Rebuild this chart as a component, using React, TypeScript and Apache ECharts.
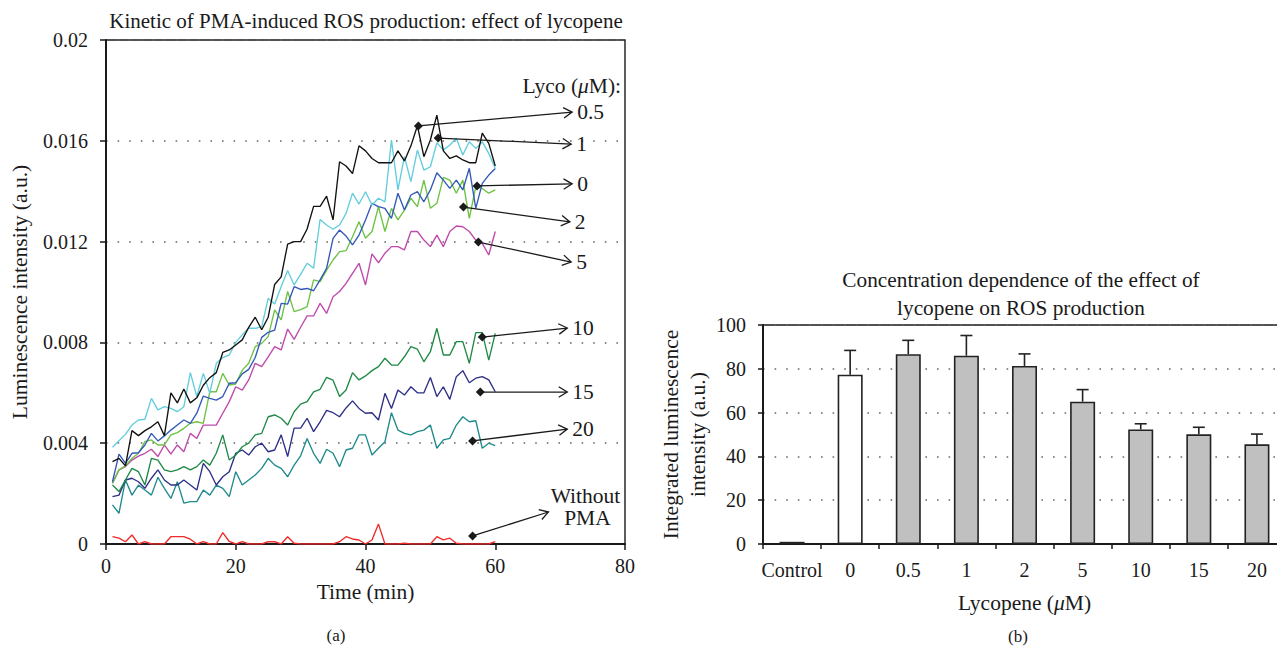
import React, { useEffect, useRef } from "react";
import * as echarts from "echarts";

// ---------- Panel (a): kinetics ----------
const times = [1, 2, 3, 4, 5, 6, 7, 8, 9, 10, 11, 12, 13, 14, 15, 16, 17, 18, 19, 20,
  21, 22, 23, 24, 25, 26, 27, 28, 29, 30, 31, 32, 33, 34, 35, 36, 37, 38, 39, 40,
  41, 42, 43, 44, 45, 46, 47, 48, 49, 50, 51, 52, 53, 54, 55, 56, 57, 58, 59, 60];

const lyco0_5 = [0.00327, 0.0034, 0.0031, 0.0045, 0.0043, 0.0045, 0.00465, 0.00485, 0.0043, 0.006,
  0.0056, 0.00615, 0.0056, 0.0058, 0.0063, 0.0066, 0.0068, 0.0076, 0.0077, 0.0079,
  0.0081, 0.0086, 0.009, 0.0085, 0.009, 0.0103, 0.0106, 0.0119, 0.012, 0.012,
  0.0125, 0.0134, 0.0134, 0.0138, 0.01286, 0.01517, 0.015, 0.0147, 0.0158, 0.0156,
  0.0153, 0.01513, 0.01513, 0.01513, 0.0156, 0.0152, 0.0158, 0.0166, 0.01537, 0.01603,
  0.01702, 0.0156, 0.0153, 0.0154, 0.01524, 0.01513, 0.01513, 0.0163, 0.0159, 0.015];

const lyco1 = [0.00384, 0.0041, 0.00435, 0.00472, 0.00492, 0.00495, 0.00578, 0.00532, 0.00545, 0.00538,
  0.00525, 0.00545, 0.0068, 0.00585, 0.00677, 0.00598, 0.00717, 0.0074, 0.0075, 0.008,
  0.0083, 0.00856, 0.00856, 0.00862, 0.00975, 0.00952, 0.01021, 0.01085, 0.01028, 0.0107,
  0.01114, 0.01094, 0.01288, 0.01266, 0.01249, 0.01266, 0.01312, 0.01392, 0.01349, 0.01398,
  0.01345, 0.01372, 0.01358, 0.01603, 0.01405, 0.01537, 0.01438, 0.01563, 0.01484, 0.01497,
  0.01592, 0.01563, 0.01583, 0.0161, 0.01544, 0.01596, 0.0157, 0.01596, 0.0155, 0.0149];

const lyco0 = [0.00247, 0.00357, 0.0032, 0.0036, 0.00362, 0.00393, 0.00439, 0.00409, 0.00429, 0.00452,
  0.00472, 0.00492, 0.00479, 0.00519, 0.00587, 0.00578, 0.00571, 0.00585, 0.00638, 0.0064,
  0.00675, 0.00693, 0.0074, 0.0082, 0.0084, 0.00849, 0.00955, 0.00952, 0.01021, 0.0101,
  0.01014, 0.01005, 0.01048, 0.01094, 0.01213, 0.01246, 0.01222, 0.01187, 0.01226, 0.01286,
  0.01352, 0.01339, 0.01332, 0.01292, 0.01392, 0.01325, 0.01385, 0.01398, 0.01358, 0.01405,
  0.01473, 0.01444, 0.01411, 0.01444, 0.01405, 0.01491, 0.01332, 0.01431, 0.01464, 0.0149];

const lyco2 = [0.00241, 0.00294, 0.0031, 0.0034, 0.0036, 0.00406, 0.00413, 0.00393, 0.00393, 0.00433,
  0.00442, 0.00459, 0.00479, 0.00485, 0.00479, 0.00604, 0.00604, 0.00677, 0.00631, 0.00635,
  0.0069, 0.00717, 0.00783, 0.00796, 0.00823, 0.00929, 0.00889, 0.01002, 0.00922, 0.0093,
  0.00942, 0.01048, 0.01041, 0.01087, 0.01127, 0.0116, 0.01164, 0.01219, 0.01279, 0.01213,
  0.0124, 0.01339, 0.0124, 0.01332, 0.01286, 0.01325, 0.01372, 0.01339, 0.01444, 0.01332,
  0.01352, 0.01455, 0.01444, 0.01392, 0.01444, 0.01292, 0.01418, 0.01411, 0.01392, 0.01405];

const lyco5 = [0.00241, 0.00294, 0.00307, 0.00333, 0.00349, 0.0036, 0.00376, 0.00347, 0.00393, 0.00357,
  0.00393, 0.00366, 0.00439, 0.00419, 0.00472, 0.00472, 0.00472, 0.00519, 0.00565, 0.00624,
  0.00611, 0.00651, 0.00717, 0.00704, 0.00743, 0.00783, 0.0077, 0.00853, 0.00812, 0.0086,
  0.00905, 0.00905, 0.00955, 0.00915, 0.00981, 0.01002, 0.01034, 0.01074, 0.01114, 0.01028,
  0.01151, 0.01116, 0.01154, 0.0118, 0.0118, 0.01167, 0.0124, 0.0124, 0.01206, 0.0118,
  0.01226, 0.0118, 0.0124, 0.01262, 0.01259, 0.0124, 0.01206, 0.01193, 0.01147, 0.0124];

const lyco10 = [0.00234, 0.00208, 0.00254, 0.003, 0.00287, 0.00234, 0.0034, 0.00333, 0.00294, 0.00287,
  0.00294, 0.00307, 0.00294, 0.00307, 0.00333, 0.00313, 0.0036, 0.00433, 0.00333, 0.00353,
  0.00386, 0.004, 0.00433, 0.00439, 0.00505, 0.00512, 0.00499, 0.00472, 0.00525, 0.00555,
  0.00565, 0.00604, 0.00614, 0.00661, 0.0065, 0.00585, 0.00611, 0.0068, 0.00651, 0.00667,
  0.00688, 0.00704, 0.00737, 0.0071, 0.0071, 0.00743, 0.00783, 0.00773, 0.00723, 0.00763,
  0.00856, 0.0075, 0.0075, 0.00803, 0.00803, 0.00717, 0.00839, 0.00839, 0.0073, 0.00836];

const lyco15 = [0.00188, 0.00194, 0.00254, 0.00261, 0.00247, 0.00221, 0.00261, 0.00294, 0.00254, 0.00234,
  0.00234, 0.00254, 0.00234, 0.00214, 0.0032, 0.00287, 0.00234, 0.00267, 0.00287, 0.0036,
  0.00373, 0.00353, 0.00386, 0.004, 0.00366, 0.00373, 0.00433, 0.00347, 0.0046, 0.0046,
  0.00499, 0.00446, 0.00485, 0.0053, 0.00521, 0.00505, 0.0054, 0.00568, 0.00538, 0.00519,
  0.00521, 0.00492, 0.00598, 0.00538, 0.00611, 0.00591, 0.00624, 0.006, 0.006, 0.00661,
  0.00585, 0.00624, 0.00574, 0.00664, 0.00688, 0.0064, 0.00658, 0.00664, 0.00651, 0.00604];

const lyco20 = [0.00155, 0.00122, 0.00254, 0.00194, 0.00234, 0.00214, 0.00194, 0.00265, 0.00221, 0.00181,
  0.00247, 0.00162, 0.00168, 0.00168, 0.00214, 0.00194, 0.00234, 0.00221, 0.00188, 0.00287,
  0.00234, 0.00254, 0.00274, 0.003, 0.0034, 0.00313, 0.003, 0.00267, 0.00313, 0.0035,
  0.00419, 0.0036, 0.0032, 0.00376, 0.0036, 0.00307, 0.00373, 0.0038, 0.00433, 0.00433,
  0.00353, 0.0038, 0.00406, 0.00521, 0.00452, 0.00439, 0.00433, 0.00446, 0.00452, 0.00472,
  0.0038, 0.00413, 0.00419, 0.00472, 0.00505, 0.00485, 0.00489, 0.0038, 0.004, 0.0039];

const withoutPMA = [0.00029, 0.00023, 0.00009, 0.00036, 0, 0.00009, 0, 0, 0, 0.00029,
  0.00029, 0.00029, 0.00019, 0, 0.00009, 0, 0, 0.00045, 0.0001, 0,
  0.00009, 0, 0, 0, 0.00009, 0.00009, 0, 0.00029, 0.00003, 0,
  0, 0, 0, 0, 0, 0.00009, 0.00029, 0.0002, 0.00016, 0,
  0.00016, 0.00079, 0, 0, 0, 0.00003, 0, 0, 0, 0,
  0.00029, 0.00016, 0.00023, 0.00003, 0, 0, 0, 0, 0, 0.00009];

const kineticSeries = [
  { name: "Without PMA", data: withoutPMA, color: "#ee2a2a" },
  { name: "20", data: lyco20, color: "#1f8a8c" },
  { name: "15", data: lyco15, color: "#2e2f86" },
  { name: "10", data: lyco10, color: "#1f8a45" },
  { name: "5", data: lyco5, color: "#bf49ab" },
  { name: "2", data: lyco2, color: "#6cc243" },
  { name: "0", data: lyco0, color: "#3358b8" },
  { name: "1", data: lyco1, color: "#62cddd" },
  { name: "0.5", data: lyco0_5, color: "#111111" },
];

// annotation arrows, in data coordinates [time, intensity]
const annotations = [
  { label: "0.5", from: [48.15, 0.01659], to: [71.85, 0.01714] },
  { label: "1", from: [51.2, 0.01611], to: [71.7, 0.01587] },
  { label: "0", from: [57.2, 0.01421], to: [71.85, 0.01429] },
  { label: "2", from: [55.1, 0.01337], to: [71.5, 0.01278] },
  { label: "5", from: [57.4, 0.01198], to: [71.7, 0.01119] },
  { label: "10", from: [58.0, 0.00821], to: [71.1, 0.00857] },
  { label: "15", from: [57.7, 0.00603], to: [71.1, 0.00603] },
  { label: "20", from: [56.5, 0.00409], to: [71.1, 0.00456] },
  { label: "Without\nPMA", from: [56.5, 0.00032], to: [68.2, 0.00127] },
];
const lycoHeaderAt = [71.8, 0.01817];

// ---------- Panel (b): bars ----------
const barCategories = ["Control", "0", "0.5", "1", "2", "5", "10", "15", "20"];
const barValues = [1.0, 77.3, 86.7, 86.0, 81.3, 65.0, 52.3, 50.1, 45.5];
const barErrTop = [1.0, 88.4, 93.0, 95.2, 86.8, 70.5, 54.9, 53.3, 50.2];

const SERIF = '"Liberation Serif", "Times New Roman", "DejaVu Serif", serif';
const FS = 20;
const NFS = 21.5;
const INK = "#1a1a1a";

export default function App() {
  const ref = useRef<HTMLDivElement>(null);

  useEffect(() => {
    const chart = echarts.init(ref.current!, null, { renderer: "svg" });

    const dotted = { color: "#666", width: 1.6, type: [1.6, 10] as any };
    const axisTxt = { fontFamily: SERIF, fontSize: FS, color: INK };
    const nameTxt = { fontFamily: SERIF, fontSize: NFS, color: INK };

    const option: any = {
      animation: false,
      textStyle: { fontFamily: SERIF },
      grid: [
        { left: 106, top: 40, width: 519, height: 504, show: true, borderColor: INK, borderWidth: 1.4, backgroundColor: "transparent" },
        { left: 763, top: 325, width: 523, height: 219, show: true, borderColor: INK, borderWidth: 1.4, backgroundColor: "transparent" },
      ],
      xAxis: [
        {
          type: "value", gridIndex: 0, min: 0, max: 80, interval: 20,
          axisLine: { show: true, onZero: false, lineStyle: { color: INK, width: 2 } },
          axisTick: { show: true, inside: false, length: 6, lineStyle: { color: INK, width: 1.5 } },
          axisLabel: { ...axisTxt, margin: 12 },
          splitLine: { show: false },
          name: "Time (min)", nameLocation: "middle", nameGap: 34,
          nameTextStyle: nameTxt,
        },
        {
          type: "category", gridIndex: 1, data: barCategories,
          axisLine: { show: true, lineStyle: { color: INK, width: 2 } },
          axisTick: { show: true, inside: false, length: 5, interval: 0, lineStyle: { color: INK, width: 1.5 } },
          axisLabel: { ...axisTxt, margin: 16, interval: 0 },
          splitLine: { show: false },
          name: "{n|Lycopene (}{i|μ}{n|M)}", nameLocation: "middle", nameGap: 48,
          nameTextStyle: {
            ...nameTxt,
            rich: {
              n: { fontFamily: SERIF, fontSize: NFS, color: INK },
              i: { fontFamily: SERIF, fontSize: NFS, color: INK, fontStyle: "italic" },
            },
          },
        },
      ],
      yAxis: [
        {
          type: "value", gridIndex: 0, min: 0, max: 0.02, interval: 0.004,
          axisLine: { show: true, onZero: false, lineStyle: { color: INK, width: 2 } },
          axisTick: { show: true, inside: false, length: 6, lineStyle: { color: INK, width: 1.5 } },
          axisLabel: { ...axisTxt, margin: 18, formatter: (v: number) => String(+v.toFixed(3)) },
          splitLine: { show: true, lineStyle: dotted },
          name: "Luminescence intensity (a.u.)", nameLocation: "middle", nameGap: 75,
          nameTextStyle: nameTxt,
        },
        {
          type: "value", gridIndex: 1, min: 0, max: 100, interval: 20,
          axisLine: { show: true, lineStyle: { color: INK, width: 2 } },
          axisTick: { show: true, inside: false, length: 5, lineStyle: { color: INK, width: 1.5 } },
          axisLabel: { ...axisTxt, margin: 17 },
          splitLine: { show: true, lineStyle: dotted },
          name: "Integrated luminescence\nintensity (a.u.)", nameLocation: "middle", nameGap: 52,
          nameTextStyle: { ...nameTxt, lineHeight: 27 },
        },
      ],
      series: [
        ...kineticSeries.map((s) => ({
          type: "line",
          name: s.name,
          xAxisIndex: 0,
          yAxisIndex: 0,
          data: times.map((t, i) => [t, s.data[i]]),
          showSymbol: false,
          symbol: "none",
          lineStyle: { color: s.color, width: 1.35 },
          itemStyle: { color: s.color },
          z: 3,
        })),
        {
          type: "bar",
          xAxisIndex: 1,
          yAxisIndex: 1,
          barWidth: 25,
          data: barValues.map((v, i) => ({
            value: v,
            itemStyle: { color: i <= 1 ? "#ffffff" : "#c0c0c0" },
          })),
          itemStyle: { borderColor: "#222", borderWidth: 1.6 },
          z: 3,
        },
        {
          type: "custom",
          xAxisIndex: 1,
          yAxisIndex: 1,
          data: barCategories.map((c, i) => [i, barValues[i], barErrTop[i]]),
          renderItem: (params: any, api: any) => {
            if (api.value(2) <= api.value(1)) return null;
            const base = api.coord([api.value(0), api.value(1)]);
            const top = api.coord([api.value(0), api.value(2)]);
            const hw = 6;
            const st = { stroke: "#222", lineWidth: 1.6 };
            return {
              type: "group",
              children: [
                { type: "line", shape: { x1: base[0], y1: base[1], x2: top[0], y2: top[1] }, style: st },
                { type: "line", shape: { x1: top[0] - hw, y1: top[1], x2: top[0] + hw, y2: top[1] }, style: st },
              ],
            };
          },
          z: 4,
        },
      ],
    };

    chart.setOption(option);

    const graphics: any[] = [];
    const txt = (x: number, y: number, text: string, align = "center", size = FS) => ({
      type: "text",
      x,
      y,
      z: 10,
      style: {
        text,
        fill: INK,
        font: `${size}px ${SERIF}`,
        textAlign: align,
        align,
        textVerticalAlign: "middle",
        verticalAlign: "middle",
      },
    });

    graphics.push(txt(366, 21, "Kinetic of PMA-induced ROS production: effect of lycopene", "center", 21));
    graphics.push(txt(1021, 280, "Concentration dependence of the effect of", "center", 21.3));
    graphics.push(txt(1021, 308, "lycopene on ROS production", "center", 21.3));
    graphics.push(txt(336, 635, "(a)", "center", 17));
    graphics.push(txt(1018, 636, "(b)", "center", 17));

    const lp = chart.convertToPixel({ gridIndex: 0 }, lycoHeaderAt) as number[];
    graphics.push({
      type: "text",
      x: lp[0],
      y: lp[1],
      z: 10,
      style: {
        text: "{n|Lyco (}{i|μ}{n|M):}",
        textAlign: "center",
        align: "center",
        textVerticalAlign: "middle",
        verticalAlign: "middle",
        rich: {
          n: { fontFamily: SERIF, fontSize: NFS, fill: INK, color: INK },
          i: { fontFamily: SERIF, fontSize: NFS, fill: INK, color: INK, fontStyle: "italic" },
        },
      },
    });

    annotations.forEach((a) => {
      const p0 = chart.convertToPixel({ gridIndex: 0 }, a.from) as number[];
      const p1 = chart.convertToPixel({ gridIndex: 0 }, a.to) as number[];
      const ang = Math.atan2(p1[1] - p0[1], p1[0] - p0[0]);
      const L = 10;
      const h = 0.55;
      const back = ang + Math.PI;
      graphics.push({
        type: "line",
        z: 9,
        shape: { x1: p0[0], y1: p0[1], x2: p1[0], y2: p1[1] },
        style: { stroke: INK, lineWidth: 1.3 },
      });
      graphics.push({
        type: "polyline",
        z: 9,
        shape: {
          points: [
            [p1[0] + L * Math.cos(back - h), p1[1] + L * Math.sin(back - h)],
            [p1[0], p1[1]],
            [p1[0] + L * Math.cos(back + h), p1[1] + L * Math.sin(back + h)],
          ],
        },
        style: { stroke: INK, lineWidth: 1.3, fill: "none" },
      });
      const d = 4.5;
      graphics.push({
        type: "polygon",
        z: 9,
        shape: {
          points: [
            [p0[0] - d, p0[1]],
            [p0[0], p0[1] - d],
            [p0[0] + d, p0[1]],
            [p0[0], p0[1] + d],
          ],
        },
        style: { fill: INK },
      });
      if (a.label.indexOf("\n") >= 0) {
        const parts = a.label.split("\n");
        graphics.push(txt(p1[0] + 37, p1[1] - 16, parts[0], "center", NFS));
        graphics.push(txt(p1[0] + 39, p1[1] + 6, parts[1], "center", NFS));
      } else {
        graphics.push(txt(p1[0] + 5, p1[1], a.label, "left", NFS));
      }
    });

    chart.setOption({ graphic: graphics });

    return () => chart.dispose();
  }, []);

  return (
    <div
      style={{ position: "absolute", left: 0, top: 0, width: 1277, height: 651, overflow: "hidden", background: "#fff" }}
    >
      <div ref={ref} style={{ width: 1300, height: 651 }} />
    </div>
  );
}
